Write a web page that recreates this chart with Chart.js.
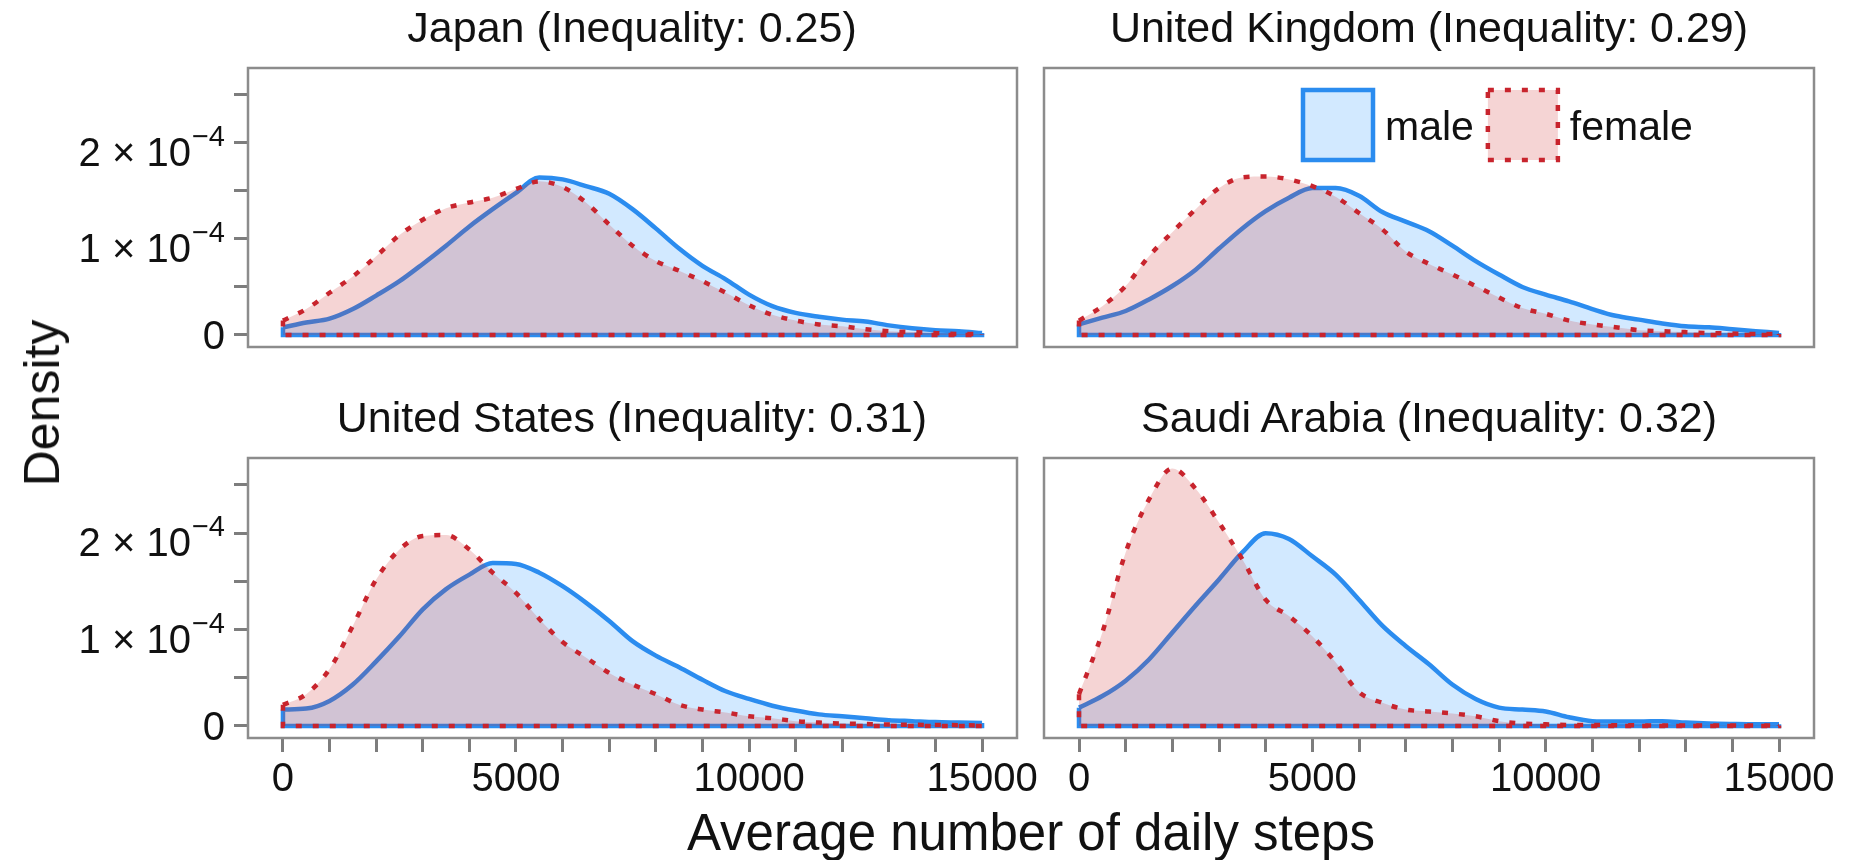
<!DOCTYPE html>
<html>
<head>
<meta charset="utf-8">
<title>Average daily steps by gender</title>
<script src="https://cdn.jsdelivr.net/npm/chart.js@4.4.1/dist/chart.umd.min.js"></script>
<style>
  html, body { margin: 0; padding: 0; background: #fff; }
  body {
    width: 1850px; height: 860px; position: relative; overflow: hidden;
    font-family: "Liberation Sans", Arial, sans-serif; color: #111;
  }
  canvas { position: absolute; }
  .title {
    position: absolute; font-size: 43px; line-height: 43px;
    white-space: nowrap; transform: translateX(-50%);
  }
  #xTitle {
    position: absolute; left: 1031px; top: 807px; font-size: 51px; line-height: 51px;
    white-space: nowrap; transform: translateX(-50%);
  }
  #yTitle {
    position: absolute; left: 42px; top: 403px; font-size: 50px; line-height: 50px;
    white-space: nowrap; transform: translate(-50%, -50%) rotate(-90deg);
  }
</style>
</head>
<body>

<canvas id="c0" width="1050" height="310" style="left:0px;top:50px"></canvas>
<canvas id="c1" width="840" height="310" style="left:1010px;top:50px"></canvas>
<canvas id="c2" width="1050" height="370" style="left:0px;top:440px"></canvas>
<canvas id="c3" width="840" height="370" style="left:1010px;top:440px"></canvas>

<div class="title" id="t0" style="left:632px;top:6px"></div>
<div class="title" id="t1" style="left:1429px;top:6px"></div>
<div class="title" id="t2" style="left:632px;top:396px"></div>
<div class="title" id="t3" style="left:1429px;top:396px"></div>
<div id="xTitle">Average number of daily steps</div>
<div id="yTitle">Density</div>

<script>
// x grid of the density estimates (steps per day)
const steps = [0, 500, 1000, 1500, 2000, 2500, 3000, 3500, 4000, 4500, 5000,
  5500, 6000, 6500, 7000, 7500, 8000, 8500, 9000, 9500, 10000,
  10500, 11000, 11500, 12000, 12500, 13000, 13500, 14000, 14500, 15000];

// densities, in units of 1e-4
const japanMale = [0.08, 0.13, 0.17, 0.27, 0.41, 0.56, 0.74, 0.93, 1.13, 1.31, 1.48,
  1.64, 1.62, 1.55, 1.47, 1.31, 1.11, 0.90, 0.72, 0.58, 0.42,
  0.30, 0.23, 0.19, 0.16, 0.14, 0.10, 0.07, 0.05, 0.04, 0.02];
const japanFemale = [0.15, 0.27, 0.44, 0.61, 0.82, 1.04, 1.20, 1.32, 1.38, 1.43, 1.52,
  1.60, 1.54, 1.38, 1.15, 0.93, 0.77, 0.67, 0.56, 0.44, 0.31,
  0.21, 0.15, 0.11, 0.09, 0.06, 0.04, 0.03, 0.02, 0.01, 0.01];

const ukMale = [0.11, 0.18, 0.25, 0.37, 0.51, 0.68, 0.90, 1.11, 1.29, 1.43, 1.53,
  1.53, 1.45, 1.28, 1.18, 1.08, 0.93, 0.77, 0.63, 0.50, 0.42,
  0.35, 0.27, 0.20, 0.16, 0.12, 0.09, 0.08, 0.06, 0.04, 0.02];
const ukFemale = [0.15, 0.30, 0.51, 0.82, 1.07, 1.31, 1.53, 1.64, 1.65, 1.62, 1.55,
  1.44, 1.27, 1.10, 0.87, 0.74, 0.63, 0.51, 0.39, 0.28, 0.22,
  0.15, 0.11, 0.08, 0.05, 0.04, 0.03, 0.02, 0.015, 0.01, 0.01];

const usMale = [0.17, 0.18, 0.26, 0.43, 0.67, 0.93, 1.21, 1.42, 1.57, 1.69, 1.68,
  1.59, 1.45, 1.28, 1.09, 0.88, 0.73, 0.61, 0.48, 0.36, 0.28,
  0.21, 0.16, 0.12, 0.10, 0.08, 0.06, 0.05, 0.04, 0.035, 0.03];
const usFemale = [0.22, 0.33, 0.59, 1.04, 1.52, 1.83, 1.97, 1.98, 1.83, 1.59, 1.38,
  1.11, 0.87, 0.71, 0.55, 0.43, 0.33, 0.22, 0.17, 0.14, 0.10,
  0.08, 0.05, 0.035, 0.025, 0.02, 0.015, 0.012, 0.01, 0.008, 0.005];

const saudiMale = [0.19, 0.31, 0.47, 0.69, 0.97, 1.25, 1.52, 1.80, 2.00, 1.94, 1.76,
  1.57, 1.31, 1.04, 0.83, 0.64, 0.43, 0.28, 0.19, 0.17, 0.15,
  0.09, 0.05, 0.045, 0.045, 0.05, 0.035, 0.025, 0.02, 0.017, 0.017];
const saudiFemale = [0.33, 0.97, 1.80, 2.35, 2.67, 2.46, 2.11, 1.73, 1.31, 1.14, 0.93,
  0.66, 0.35, 0.24, 0.17, 0.15, 0.13, 0.10, 0.05, 0.025, 0.017,
  0.01, 0.01, 0.008, 0.006, 0.005, 0.005, 0.005, 0.005, 0.005, 0.005];

const countries = ['Japan', 'United Kingdom', 'United States', 'Saudi Arabia'];
const inequality = ['0.25', '0.29', '0.31', '0.32'];
const maleSeries = [japanMale, ukMale, usMale, saudiMale];
const femaleSeries = [japanFemale, ukFemale, usFemale, saudiFemale];

const xTicks = [0, 1000, 2000, 3000, 4000, 5000, 6000, 7000, 8000, 9000, 10000,
  11000, 12000, 13000, 14000, 15000];
const xTickLabels = ['0', '', '', '', '', '5000', '', '', '', '', '10000',
  '', '', '', '', '15000'];
const yTicks = [0, 0.5e-4, 1e-4, 1.5e-4, 2e-4, 2.5e-4];
const yTickLabels = ['0', '', '1 × 10^\u22124', '', '2 × 10^\u22124', ''];

const UNIT = 1e-4;
const FONT = '"Liberation Sans", Arial, sans-serif';
const TEXT = '#111';
const TICK_GREY = '#7d7d7d';

const styles = {
  male: { line: '#2b8cef', fill: 'rgba(30,144,255,0.2)', dash: [] },
  female: { line: '#c8242d', fill: 'rgba(205,38,38,0.2)', dash: [6, 11] }
};

// where each facet sits: canvas index, which axes it shows
const panels = [
  { showX: false, showY: true, pad: { left: 0, right: 33, top: 18, bottom: 13 }, legend: false },
  { showX: false, showY: false, pad: { left: 34, right: 36, top: 18, bottom: 13 }, legend: true },
  { showX: true, showY: true, pad: { left: 0, right: 33, top: 18, bottom: 0 }, legend: false },
  { showX: true, showY: false, pad: { left: 34, right: 36, top: 18, bottom: 0 }, legend: false }
];

Chart.defaults.font.family = FONT;
Chart.defaults.color = TEXT;

function curvePoints(values) {
  return steps.map((s, i) => ({ x: s, y: values[i] * UNIT }));
}

// left edge, baseline and right edge of the density polygon
function outlinePoints(values) {
  const last = steps.length - 1;
  return [
    { x: steps[0], y: values[0] * UNIT },
    { x: steps[0], y: 0 },
    { x: steps[last], y: 0 },
    { x: steps[last], y: values[last] * UNIT }
  ];
}

function genderDatasets(gender, values, order) {
  const st = styles[gender];
  return [
    {
      label: gender, data: curvePoints(values), order: order,
      borderColor: st.line, backgroundColor: st.fill, borderWidth: 4.5,
      borderDash: st.dash, fill: 'origin', pointRadius: 0,
      cubicInterpolationMode: 'monotone'
    },
    {
      label: gender + ' outline', data: outlinePoints(values), order: order - 1,
      borderColor: st.line, borderWidth: 4.5, borderDash: st.dash,
      fill: false, pointRadius: 0, tension: 0
    }
  ];
}

// grey panel frame
const framePlugin = {
  id: 'frame',
  afterDraw(chart) {
    const a = chart.chartArea;
    const ctx = chart.ctx;
    ctx.save();
    ctx.strokeStyle = '#8c8c8c';
    ctx.lineWidth = 2.5;
    ctx.strokeRect(a.left, a.top, a.right - a.left, a.bottom - a.top);
    ctx.restore();
  }
};

// y labels such as 2 × 10^-4 need a raised exponent
const yLabelPlugin = {
  id: 'yLabels',
  afterDraw(chart) {
    const scale = chart.scales.y;
    if (!scale.options.display) return;
    const ctx = chart.ctx;
    const right = scale.right - 23;
    ctx.save();
    ctx.fillStyle = TEXT;
    ctx.textBaseline = 'alphabetic';
    yTicks.forEach((v, i) => {
      const text = yTickLabels[i];
      if (!text) return;
      const y = scale.getPixelForValue(v);
      const parts = text.split('^');
      if (parts.length === 1) {
        ctx.font = '40px ' + FONT;
        ctx.textAlign = 'right';
        ctx.fillText(parts[0], right, y + 14.5);
        return;
      }
      ctx.font = '29px ' + FONT;
      const expW = ctx.measureText(parts[1]).width;
      ctx.textAlign = 'left';
      ctx.fillText(parts[1], right - expW, y + 3);
      ctx.font = '40px ' + FONT;
      ctx.textAlign = 'right';
      ctx.fillText(parts[0], right - expW - 1, y + 23);
    });
    ctx.restore();
  }
};

// filled-box legend inside the top right facet
const legendPlugin = {
  id: 'boxLegend',
  afterDraw(chart, args, opts) {
    if (!opts.show) return;
    const a = chart.chartArea;
    const ctx = chart.ctx;
    const items = chart.data.datasets.filter(d => d.fill === 'origin')
      .sort((p, q) => q.order - p.order);
    let x = a.left + 259;
    const top = a.top + 22;
    const size = 70;
    ctx.save();
    ctx.font = '41px ' + FONT;
    ctx.textBaseline = 'alphabetic';
    items.forEach(d => {
      ctx.fillStyle = d.backgroundColor;
      ctx.fillRect(x, top, size, size);
      ctx.strokeStyle = d.borderColor;
      ctx.lineWidth = 4.5;
      ctx.setLineDash(d.borderDash);
      ctx.strokeRect(x, top, size, size);
      ctx.setLineDash([]);
      x += size + 12;
      ctx.fillStyle = TEXT;
      ctx.fillText(d.label, x, top + 50);
      x += ctx.measureText(d.label).width + 14;
    });
    ctx.restore();
  }
};

panels.forEach((p, k) => {
  document.getElementById('t' + k).textContent =
    countries[k] + ' (Inequality: ' + inequality[k] + ')';

  const datasets = [
    ...genderDatasets('male', maleSeries[k], 4),
    ...genderDatasets('female', femaleSeries[k], 2)
  ];

  new Chart(document.getElementById('c' + k), {
    type: 'line',
    data: { datasets },
    plugins: [framePlugin, yLabelPlugin, legendPlugin],
    options: {
      responsive: false,
      devicePixelRatio: 1,
      animation: false,
      layout: { padding: p.pad },
      plugins: {
        legend: { display: false },
        tooltip: { enabled: false },
        boxLegend: { show: p.legend }
      },
      scales: {
        x: {
          type: 'linear',
          min: -750,
          max: 15750,
          display: p.showX,
          afterBuildTicks(axis) { axis.ticks = xTicks.map(v => ({ value: v })); },
          afterFit(axis) {
            if (!p.showX) return;
            axis.height = 72;
            axis.paddingLeft = 0;
            axis.paddingRight = 0;
          },
          grid: {
            drawOnChartArea: false, drawTicks: true,
            tickLength: 14, tickWidth: 3, tickColor: TICK_GREY
          },
          border: { display: false },
          ticks: {
            autoSkip: false, maxRotation: 0, minRotation: 0, padding: 4,
            color: TEXT, font: { size: 40 },
            callback: (value, index) => xTickLabels[index]
          }
        },
        y: {
          type: 'linear',
          min: -0.125e-4,
          max: 2.78e-4,
          display: p.showY,
          afterBuildTicks(axis) { axis.ticks = yTicks.map(v => ({ value: v })); },
          afterFit(axis) {
            if (!p.showY) return;
            axis.width = 248;
            axis.paddingTop = 0;
            axis.paddingBottom = 0;
          },
          grid: {
            drawOnChartArea: false, drawTicks: true,
            tickLength: 14, tickWidth: 3, tickColor: TICK_GREY
          },
          border: { display: false },
          ticks: { callback: () => '' }
        }
      }
    }
  });
});
</script>
</body>
</html>
